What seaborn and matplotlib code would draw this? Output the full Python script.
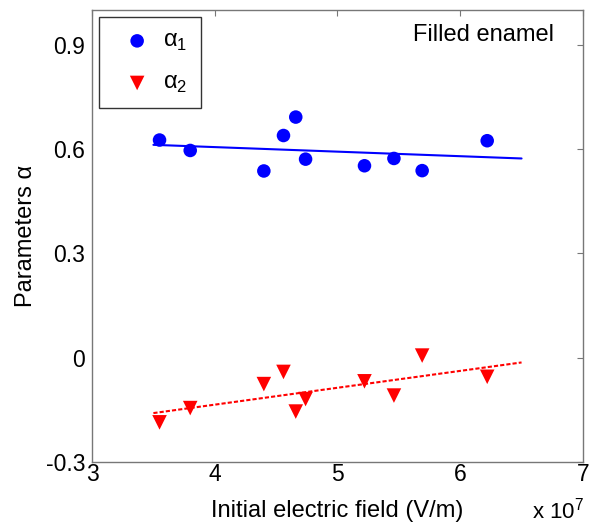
import numpy as np
import matplotlib
matplotlib.use("Agg")
import matplotlib.pyplot as plt
import seaborn as sns
import pandas as pd

# data (x in units of 1e7 V/m)
field = [3.55, 3.80, 4.40, 4.56, 4.66, 4.74, 5.22, 5.46, 5.69, 6.22]
alpha1 = [0.626, 0.596, 0.537, 0.639, 0.692, 0.571, 0.552, 0.573, 0.538, 0.624]
alpha2 = [-0.186, -0.145, -0.076, -0.041, -0.155, -0.119, -0.068, -0.109, 0.006, -0.055]
fit_range = [3.5, 6.5]
xticks = [3, 4, 5, 6, 7]
yticks = [-0.3, 0, 0.3, 0.6, 0.9]
ytick_labels = ["-0.3", "0", "0.3", "0.6", "0.9"]

sns.set_style("white")
plt.rcParams['font.family'] = ['Liberation Sans', 'DejaVu Sans']
plt.rcParams['mathtext.fontset'] = 'custom'
plt.rcParams['mathtext.rm'] = 'Liberation Sans'
plt.rcParams['text.color'] = 'black'
plt.rcParams['axes.labelcolor'] = 'black'
plt.rcParams['xtick.labelcolor'] = 'black'
plt.rcParams['ytick.labelcolor'] = 'black'

df = pd.DataFrame({"field": field, "a1": alpha1, "a2": alpha2})

fig = plt.figure(figsize=(5.9, 5.26), dpi=100)
ax = fig.add_axes([0.156, 0.1217, 0.832, 0.8593])

sns.scatterplot(data=df, x="field", y="a1", ax=ax, color="#0000ff", marker="o",
                s=95, edgecolor="none", label="α$_1$", zorder=3)
sns.scatterplot(data=df, x="field", y="a2", ax=ax, color="#ff0000", marker="v",
                s=110, edgecolor="none", label="α$_2$", zorder=3)

xf = np.array(fit_range)
p1 = np.polyfit(field, alpha1, 1)
p2 = np.polyfit(field, alpha2, 1)
sns.lineplot(x=xf, y=np.polyval(p1, xf), ax=ax, color="#0000ff", lw=1.5, legend=False)
sns.lineplot(x=xf, y=np.polyval(p2, xf), ax=ax, color="#ff0000", lw=1.5,
             linestyle=(0, (2, 1)), legend=False)

ax.set_xlim(3, 7)
ax.set_ylim(-0.3, 1.0)
ax.set_xticks(xticks)
ax.set_yticks(yticks)
ax.set_yticklabels(ytick_labels)
ax.tick_params(direction="in", length=4, width=0.8, color="#777777",
               labelcolor="black", top=True, right=True, labelsize=16.5)
ax.tick_params(axis="y", pad=5)
ax.tick_params(axis="x", pad=1)
for s in ax.spines.values():
    s.set_color("#777777")
    s.set_linewidth(1.0)

ax.set_xlabel("Initial electric field (V/m)", fontsize=17, labelpad=10, color="black")
ax.set_ylabel("Parameters α", fontsize=17, labelpad=6, color="black")
ax.text(0.941, 0.945, "Filled enamel", transform=ax.transAxes, ha="right",
        va="center", fontsize=17, color="black")
fig.text(0.99, 0.005, "x 10$^7$", ha="right", va="bottom", fontsize=16, color="black")

leg = ax.legend(loc="upper left", fontsize=17, frameon=True, fancybox=False,
                edgecolor="black", borderpad=0.55, handletextpad=0.05,
                handlelength=2.12, labelspacing=0.8, borderaxespad=0.3,
                markerscale=1.0)
leg.get_frame().set_linewidth(1.0)
for t in leg.get_texts():
    t.set_color("black")

fig.savefig("out.png", dpi=100)
